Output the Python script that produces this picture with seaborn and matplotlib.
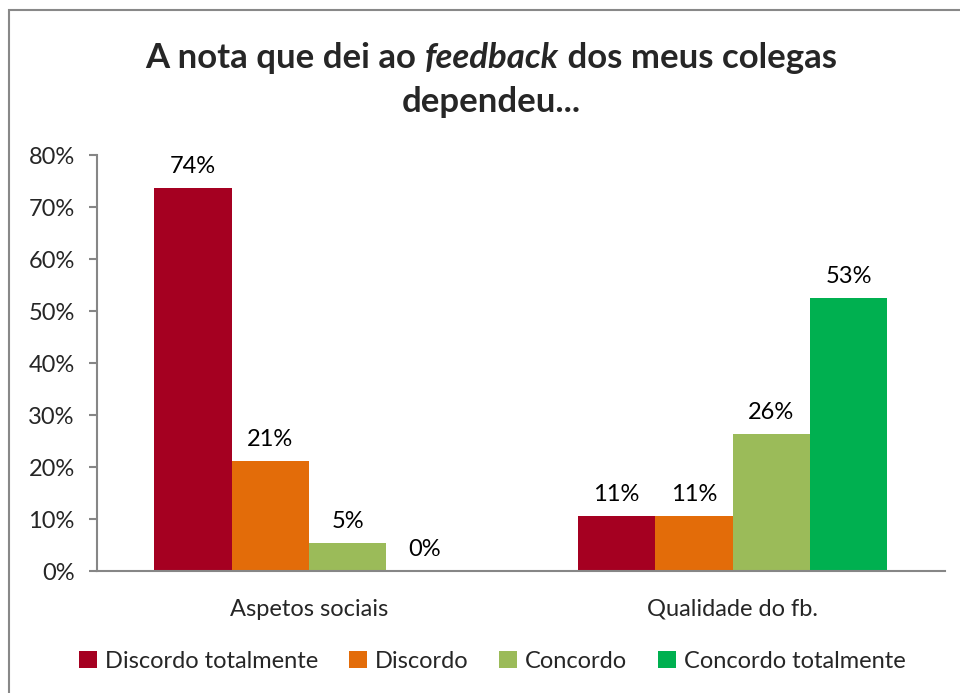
import pandas as pd
import matplotlib.pyplot as plt
import matplotlib.patches as mpatches
import seaborn as sns

# dados (percentagens)
aspetos = ['Aspetos sociais', 'Qualidade do fb.']
respostas = ['Discordo totalmente', 'Discordo', 'Concordo', 'Concordo totalmente']
aspetos_sociais = [73.7, 21.1, 5.3, 0.0]
qualidade_fb = [10.6, 10.6, 26.3, 52.6]
y_ticks = [0, 10, 20, 30, 40, 50, 60, 70, 80]

cores = ['#A50021', '#E36C09', '#9BBB59', '#00B050']

df = pd.DataFrame({
    'aspeto': [aspetos[0]] * 4 + [aspetos[1]] * 4,
    'resposta': respostas * 2,
    'valor': aspetos_sociais + qualidade_fb,
})

sns.set_style("white")
plt.rcParams['font.family'] = ['Lato', 'DejaVu Sans']

fig = plt.figure(figsize=(9.6, 6.93), dpi=100)
ax = fig.add_axes([0.101, 0.176, 0.883, 0.600])

sns.barplot(data=df, x='aspeto', y='valor', hue='resposta', hue_order=respostas,
            palette=cores, width=0.73, linewidth=0, saturation=1, ax=ax)

for cont in ax.containers:
    ax.bar_label(cont, labels=[f'{v:.0f}%' for v in cont.datavalues],
                 padding=8, fontsize=17, color='#000000')

ax.set_ylim(0, 80)
ax.set_xlim(-0.5, 1.5)
ax.set_yticks(y_ticks)
ax.set_yticklabels([f'{t}%' for t in y_ticks], fontsize=17)
ax.set_xticks([0, 1])
ax.set_xticklabels(aspetos, fontsize=17)
ax.set_xticks([-0.5, 0.5, 1.5], minor=True)
ax.tick_params(axis='x', which='major', length=0, pad=20)
ax.tick_params(axis='x', which='minor', length=6, width=1.5, color='#868686', direction='out')
ax.tick_params(axis='y', length=6, width=1.5, color='#868686', direction='out', pad=10, left=True)
ax.set_xlabel('')
ax.set_ylabel('')
for s in ['top', 'right']:
    ax.spines[s].set_visible(False)
for s in ['left', 'bottom']:
    ax.spines[s].set_color('#868686')
    ax.spines[s].set_linewidth(1.5)

# legenda em baixo
handles, labels = ax.get_legend_handles_labels()
ax.get_legend().remove()
fig.legend(handles, labels, loc='center', bbox_to_anchor=(0.513, 0.046), ncol=4,
           frameon=False, fontsize=17, handlelength=0.75, handleheight=0.75,
           handletextpad=0.35, columnspacing=1.3)

# título com "feedback" em itálico
renderer = fig.canvas.get_renderer()
partes = [('A nota que dei ao ', 'normal'), ('feedback', 'italic'), (' dos meus colegas', 'normal')]
textos = [fig.text(0, 1 - 68 / 693, p, fontsize=25, fontweight='bold', style=st, va='baseline')
          for p, st in partes]
larguras = [t.get_window_extent(renderer).width for t in textos]
x = 491 - sum(larguras) / 2
for t, w in zip(textos, larguras):
    t.set_x(x / 960)
    x += w
fig.text(491 / 960, 1 - 112 / 693, 'dependeu...', fontsize=25, fontweight='bold',
         ha='center', va='baseline')

# moldura do gráfico
fig.add_artist(mpatches.Rectangle((9 / 960, -0.1), 1.2, 0.1 + 1 - 10 / 693,
                                  transform=fig.transFigure, fill=False,
                                  edgecolor='#888888', linewidth=1.5, clip_on=False))

fig.savefig('out.png', dpi=100)
